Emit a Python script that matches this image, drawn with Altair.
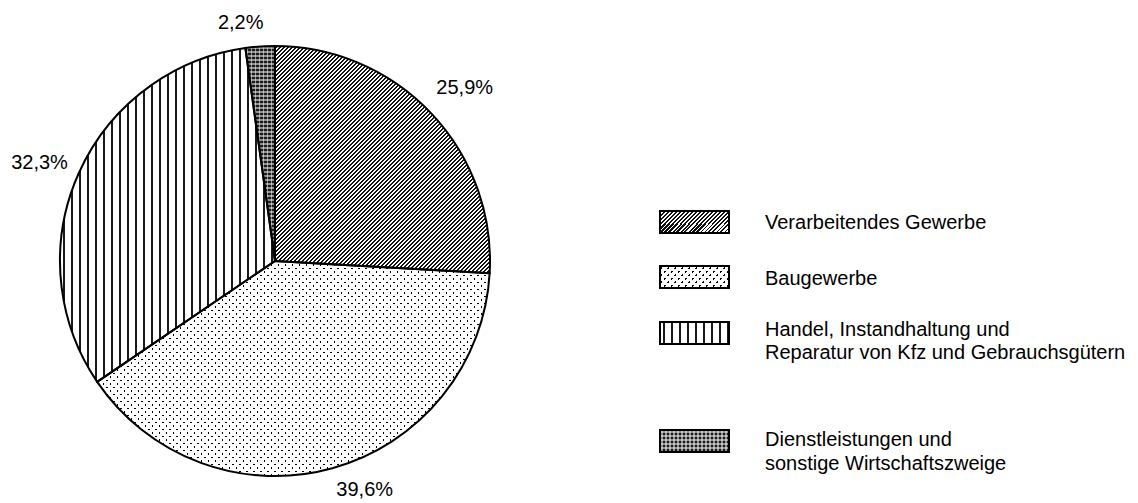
import math
import altair as alt
import pandas as pd

# ---------------- data ----------------
categories = [
    "Verarbeitendes Gewerbe",
    "Baugewerbe",
    "Handel, Instandhaltung und Reparatur von Kfz und Gebrauchsgütern",
    "Dienstleistungen und sonstige Wirtschaftszweige",
]
shares = [25.9, 39.6, 32.3, 2.2]
share_labels = ["25,9%", "39,6%", "32,3%", "2,2%"]
legend_lines = [
    ["Verarbeitendes Gewerbe"],
    ["Baugewerbe"],
    ["Handel, Instandhaltung und", "Reparatur von Kfz und Gebrauchsgütern"],
    ["Dienstleistungen und", "sonstige Wirtschaftszweige"],
]

df = pd.DataFrame({
    "category": categories,
    "share": shares,
    "label": share_labels,
    "order": list(range(len(categories))),
})

# ---------------- layout / style ----------------
CX, CY, R = 275, 261, 215
FONT = "Liberation Sans"
FS = 20
label_offsets = {0: (8, -1), 1: (23, -12), 2: (-7, 3), 3: (-17, 11)}
box_x0, box_x1 = 660, 729
box_tops = [211, 266, 322, 430]
box_h = 22
text_x = 765
text_y = [[223], [279], [330, 353], [440, 464]]

# approximate geometric bounding boxes (w, h) of the wedges for pattern scaling
wedge_bbox = [(215, 227), (392.5, 215), (215, 334), (29.5, 215)]

CLEAR = "rgba(0,0,0,0)"
SPAN = 128  # length (px) covered by one gradient, keeps stripes crisp


def stripe_layers(kind, W, H, P, frac, color):
    """Gradient fills drawing parallel lines (transparent between them).
    kind: 'up' ('/'), 'down' ('\\'), 'v' (vertical), 'h' (horizontal)."""
    if kind in ("up", "down"):
        total = W + H
    elif kind == "v":
        total = W
    else:
        total = H
    D = W * W + H * H
    m = max(1, int(SPAN // P))
    n_layers = math.ceil(total / (m * P))

    def pt(lam):
        if kind == "up":
            return lam * W / D, lam * H / D
        if kind == "down":
            return lam * W / D, 1 - lam * H / D
        if kind == "v":
            return lam / W, 0
        return 0, lam / H

    fills = []
    for k in range(n_layers):
        x1, y1 = pt(k * m * P)
        x2, y2 = pt((k + 1) * m * P)
        stops = [(0.0, CLEAR)]
        for i in range(m):
            a = (i + (1 - frac) / 2) / m
            b = (i + (1 + frac) / 2) / m
            stops += [(a, CLEAR), (a, color), (b, color), (b, CLEAR)]
        stops.append((1.0, CLEAR))
        fills.append({
            "gradient": "linear", "x1": x1, "y1": y1, "x2": x2, "y2": y2,
            "stops": [{"offset": min(1.0, round(o, 7)), "color": c} for o, c in stops],
        })
    return fills


def pattern_fills(idx, W, H):
    """List of fills (bottom to top) that together draw the pattern of a category."""
    if idx == 0:
        return ["#ffffff"] + stripe_layers("up", W, H, 4, 0.5, "#111111")
    if idx == 1:
        return (["#ffffff"]
                + stripe_layers("up", W, H, 7, 0.32, "#000000")
                + stripe_layers("down", W, H, 7, 0.68, "#ffffff"))
    if idx == 2:
        return ["#ffffff"] + stripe_layers("v", W, H, 8, 0.25, "#1a1a1a")
    return (["#1c1c1c"]
            + stripe_layers("v", W, H, 4, 0.35, "rgba(255,255,255,0.5)")
            + stripe_layers("h", W, H, 4, 0.35, "rgba(255,255,255,0.5)"))


base = (
    alt.Chart(df)
    .transform_window(cum="sum(share)", sort=[alt.SortField("order")], frame=[None, 0])
    .transform_calculate(start="datum.cum - datum.share", mid="datum.cum - datum.share / 2",
                         end="datum.cum")
)
theta_scale = alt.Scale(domain=[0, 100])

layers = []

# pie wedges with patterns
for i in range(len(categories)):
    W, H = wedge_bbox[i]
    for f in pattern_fills(i, W, H):
        layers.append(
            base.transform_filter(alt.datum.order == i)
            .mark_arc(outerRadius=R, fill=f, strokeWidth=0)
            .encode(
                theta=alt.Theta("start:Q", scale=theta_scale),
                theta2="end:Q",
                x=alt.value(CX), y=alt.value(CY),
            )
        )

# outlines
layers.append(
    base.mark_arc(outerRadius=R, fill="#ffffff", fillOpacity=0, stroke="#000000", strokeWidth=2)
    .encode(
        theta=alt.Theta("start:Q", scale=theta_scale),
        theta2="end:Q",
        x=alt.value(CX), y=alt.value(CY),
    )
)

# percentage labels
for i in range(len(categories)):
    dx, dy = label_offsets[i]
    layers.append(
        base.transform_filter(alt.datum.order == i)
        .mark_text(radius=250, font=FONT, fontSize=FS, color="#000000",
                   align="center", baseline="middle", dx=dx, dy=dy)
        .encode(
            theta=alt.Theta("mid:Q", scale=theta_scale),
            text="label:N",
            x=alt.value(CX), y=alt.value(CY),
        )
    )

# custom legend: patterned boxes
for i in range(len(categories)):
    W, H = box_x1 - box_x0, box_h
    for f in pattern_fills(i, W, H):
        layers.append(
            alt.Chart(df).transform_filter(alt.datum.order == i)
            .mark_rect(fill=f, strokeWidth=0)
            .encode(
                x=alt.value(box_x0), x2=alt.value(box_x1),
                y=alt.value(box_tops[i]), y2=alt.value(box_tops[i] + box_h),
            )
        )
    layers.append(
        alt.Chart(df).transform_filter(alt.datum.order == i)
        .mark_rect(fill="#ffffff", fillOpacity=0, stroke="#000000", strokeWidth=2)
        .encode(
            x=alt.value(box_x0), x2=alt.value(box_x1),
            y=alt.value(box_tops[i]), y2=alt.value(box_tops[i] + box_h),
        )
    )

# legend text
for i, lines in enumerate(legend_lines):
    for j, line in enumerate(lines):
        ldf = pd.DataFrame({"t": [line]})
        layers.append(
            alt.Chart(ldf)
            .mark_text(font=FONT, fontSize=FS, color="#000000", align="left", baseline="middle")
            .encode(text="t:N", x=alt.value(text_x), y=alt.value(text_y[i][j]))
        )

chart = (
    alt.layer(*layers)
    .properties(width=1138, height=503, autosize="none", padding=0, background="#ffffff")
    .configure_view(stroke=None)
)

chart.save("out.html", embed_options={"renderer": "svg", "actions": False})
